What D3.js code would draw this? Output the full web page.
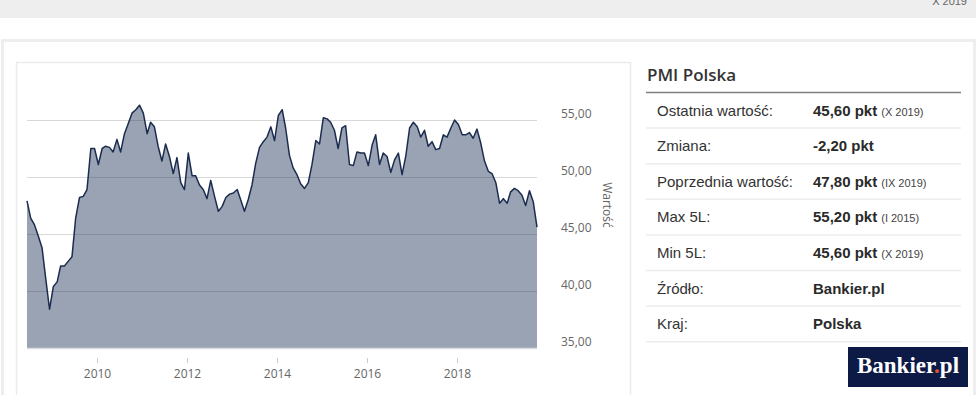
<!DOCTYPE html>
<html>
<head>
<meta charset="utf-8">
<script src="https://cdn.jsdelivr.net/npm/d3@7"></script>
<style>
html,body{margin:0;padding:0;background:#fff;}
svg{display:block;}
</style>
</head>
<body>
<svg id="chart" width="978" height="395"></svg>
<script>
// ---- data (monthly PMI Polska, June 2008 – October 2019) ----
const startYear = 2008, startMonth = 6;
const pmi2008 = [47.9, 46.4, 45.8, 44.8, 43.8, 41.0, 38.4];
const pmi2009 = [40.4, 40.8, 42.2, 42.2, 42.6, 43.0, 46.4, 48.2, 48.3, 48.9, 52.5, 52.5];
const pmi2010 = [51.1, 52.5, 52.7, 52.6, 52.2, 53.3, 52.2, 53.8, 54.7, 55.6, 55.9, 56.3];
const pmi2011 = [55.6, 53.8, 54.8, 54.4, 52.7, 51.4, 52.9, 51.8, 50.3, 51.7, 49.5, 48.9];
const pmi2012 = [52.1, 50.1, 50.1, 49.3, 48.9, 48.1, 49.7, 48.3, 47.0, 47.4, 48.2, 48.5];
const pmi2013 = [48.6, 48.9, 48.0, 47.0, 48.0, 49.3, 51.2, 52.6, 53.1, 53.5, 54.4, 53.2];
const pmi2014 = [55.4, 55.9, 54.3, 51.9, 50.8, 50.2, 49.4, 49.0, 49.5, 51.1, 53.2, 52.9];
const pmi2015 = [55.2, 55.1, 54.8, 54.1, 52.5, 54.3, 54.5, 51.1, 51.0, 52.2, 52.1, 52.1];
const pmi2016 = [51.0, 52.8, 53.7, 51.1, 52.1, 51.8, 50.4, 51.5, 52.1, 50.2, 51.9, 54.3];
const pmi2017 = [54.8, 54.4, 53.5, 54.1, 52.7, 53.1, 52.4, 52.5, 53.7, 53.5, 54.3, 55.0];
const pmi2018 = [54.6, 53.7, 53.7, 53.9, 53.4, 54.2, 53.0, 51.4, 50.5, 50.3, 49.5, 47.7];
const pmi2019 = [48.1, 47.7, 48.7, 49.0, 48.8, 48.4, 47.5, 48.8, 47.8, 45.6];

const yTicks = [35, 40, 45, 50, 55];
const xTickYears = [2010, 2012, 2014, 2016, 2018];
const yAxisTitle = "Wartość";
const topNote = "X 2019";

const panelTitle = "PMI Polska";
const rowLabels = ["Ostatnia wartość:", "Zmiana:", "Poprzednia wartość:", "Max 5L:", "Min 5L:", "Źródło:", "Kraj:"];
const rowValues = ["45,60 pkt", "-2,20 pkt", "47,80 pkt", "55,20 pkt", "45,60 pkt", "Bankier.pl", "Polska"];
const rowNotes  = ["(X 2019)", "", "(IX 2019)", "(I 2015)", "(X 2019)", "", ""];

// ---- build series ----
const values = [].concat(pmi2008, pmi2009, pmi2010, pmi2011, pmi2012, pmi2013,
                         pmi2014, pmi2015, pmi2016, pmi2017, pmi2018, pmi2019);
const series = values.map((v, i) => ({date: new Date(startYear, startMonth - 1 + i, 15), value: v}));

const svg = d3.select("#chart");

// ---- page frame ----
svg.append("rect").attr("x", 0).attr("y", 0).attr("width", 976).attr("height", 18).attr("fill", "#eeeeee");
svg.append("text").attr("x", 967).attr("y", 5).attr("text-anchor", "end")
  .attr("font-family", "Arial, 'Liberation Sans', sans-serif").attr("font-size", 11).attr("fill", "#666")
  .text(topNote);
svg.append("rect").attr("x", 2.5).attr("y", 40.5).attr("width", 972).attr("height", 400)
  .attr("fill", "#fff").attr("stroke", "#eeeeee").attr("stroke-width", 3);
svg.append("rect").attr("x", 16.5).attr("y", 62.5).attr("width", 614).attr("height", 400)
  .attr("fill", "#fff").attr("stroke", "#ebebeb").attr("stroke-width", 1.5);

// ---- chart ----
const x = d3.scaleTime()
  .domain(d3.extent(series, d => d.date))
  .range([27, 537]);
const y = d3.scaleLinear().domain([35, 55]).range([348, 120]);

const g = svg.append("g");

// grid
g.selectAll("line.grid").data(yTicks.filter(t => t > 35)).join("line")
  .attr("class", "grid")
  .attr("x1", 27).attr("x2", 537)
  .attr("y1", d => Math.round(y(d)) + 0.5).attr("y2", d => Math.round(y(d)) + 0.5)
  .attr("stroke", "#d8d8d8").attr("stroke-width", 1);

// area
const area = d3.area().x(d => x(d.date)).y0(y(35)).y1(d => y(d.value));
g.append("path").datum(series).attr("d", area)
  .attr("fill", "#1f3356").attr("fill-opacity", 0.45);

// line
const line = d3.line().x(d => x(d.date)).y(d => y(d.value));
g.append("path").datum(series).attr("d", line)
  .attr("fill", "none").attr("stroke", "#1b2c4f").attr("stroke-width", 1.5)
  .attr("stroke-linejoin", "round");

// x axis line
g.append("line").attr("x1", 27).attr("x2", 537).attr("y1", 348.5).attr("y2", 348.5)
  .attr("stroke", "#dcdcdc").attr("stroke-width", 1.5);

// x ticks and labels
const xt = g.selectAll("g.xt").data(xTickYears).join("g").attr("class", "xt")
  .attr("transform", d => `translate(${Math.round(x(new Date(d, 0, 1))) + 0.5},0)`);
xt.append("line").attr("y1", 358).attr("y2", 363).attr("stroke", "#cccccc");
xt.append("text").attr("y", 377.5).attr("text-anchor", "middle")
  .attr("font-family", "'Open Sans', sans-serif").attr("font-size", 12).attr("fill", "#666")
  .text(d => d);

// y labels (right side)
g.selectAll("text.yl").data(yTicks).join("text").attr("class", "yl")
  .attr("x", 561).attr("y", d => y(d) - 2)
  .attr("font-family", "'Open Sans', sans-serif").attr("font-size", 12).attr("fill", "#666")
  .text(d => d3.format(".2f")(d).replace(".", ","));

// y axis title (rotated)
g.append("text")
  .attr("transform", "translate(603,205) rotate(90)")
  .attr("text-anchor", "middle")
  .attr("font-family", "'Open Sans', sans-serif").attr("font-size", 12).attr("fill", "#666")
  .text(yAxisTitle);

// ---- side panel ----
const p = svg.append("g");
p.append("text").attr("x", 647).attr("y", 81)
  .attr("font-family", "'Open Sans', sans-serif").attr("font-weight", 600).attr("font-size", 17)
  .attr("fill", "#333").text(panelTitle);
p.append("line").attr("x1", 646).attr("x2", 961).attr("y1", 92.5).attr("y2", 92.5)
  .attr("stroke", "#808080").attr("stroke-width", 1.5);

const rowTop = 93, rowH = 35.6;
const rows = p.selectAll("g.row").data(rowLabels).join("g").attr("class", "row")
  .attr("transform", (d, i) => `translate(0,${rowTop + i * rowH})`);
rows.append("line").attr("x1", 646).attr("x2", 961)
  .attr("y1", rowH - 0.5).attr("y2", rowH - 0.5)
  .attr("stroke", "#ececec").attr("stroke-width", 1.5);
rows.append("text").attr("x", 657).attr("y", 22.5)
  .attr("font-family", "Arial, 'Liberation Sans', sans-serif").attr("font-size", 15).attr("fill", "#333")
  .text(d => d);
const vt = rows.append("text").attr("x", 813).attr("y", 22.5)
  .attr("font-family", "Arial, 'Liberation Sans', sans-serif").attr("fill", "#2a2a2a");
vt.append("tspan").attr("font-weight", "bold").attr("font-size", 15).text((d, i) => rowValues[i]);
vt.append("tspan").attr("font-size", 11).attr("fill", "#444").attr("dx", 4).text((d, i) => rowNotes[i]);

// logo
const logo = p.append("g");
logo.append("rect").attr("x", 848).attr("y", 347).attr("width", 120).attr("height", 40).attr("fill", "#0d1a46");
const lt = logo.append("text").attr("x", 908).attr("y", 373).attr("text-anchor", "middle")
  .attr("font-family", "'Liberation Serif', 'Times New Roman', serif").attr("font-weight", "bold")
  .attr("font-size", 23).attr("fill", "#fff");
lt.append("tspan").text("Bankier");
lt.append("tspan").attr("fill", "#e4502a").text(".");
lt.append("tspan").text("pl");
</script>
</body>
</html>
